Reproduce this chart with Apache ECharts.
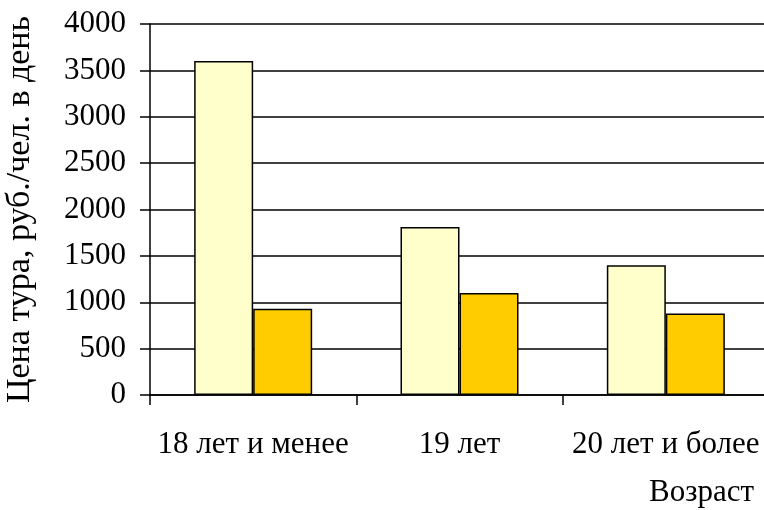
<!DOCTYPE html>
<html><head><meta charset="utf-8">
<script src="https://cdn.jsdelivr.net/npm/echarts@6/dist/echarts.min.js"></script>
<style>html,body{margin:0;padding:0;background:#fff}#c{width:764px;height:510px}</style>
</head><body><div id="c"></div>
<script>
const categories = ['18 лет и менее', '19 лет', '20 лет и более'];
const seriesA = [3600, 1810, 1400];
const seriesB = [930, 1100, 880];
const yMin = 0, yMax = 4000, yStep = 500;
const yTitle = 'Цена тура, руб./чел. в день';
const xTitle = 'Возраст';

const FONT = "'Liberation Serif', 'Times New Roman', serif";
const chart = echarts.init(document.getElementById('c'), null, {renderer: 'canvas'});
chart.setOption({
  animation: false,
  backgroundColor: '#fff',
  grid: {left: 150, top: 24, right: -5, bottom: 115, containLabel: false, outerBoundsMode: 'none'},
  xAxis: {
    type: 'category',
    data: categories,
    axisLine: {lineStyle: {color: '#000', width: 1.5}},
    axisTick: {show: true, length: 10, lineStyle: {color: '#000', width: 1.5}},
    axisLabel: {color: '#000', fontFamily: FONT, fontSize: 31, margin: 34, interval: 0, hideOverlap: false},
    splitLine: {show: false}
  },
  yAxis: {
    type: 'value',
    min: yMin, max: yMax, interval: yStep,
    name: yTitle,
    nameLocation: 'middle',
    nameGap: 113,
    nameTextStyle: {color: '#000', fontFamily: FONT, fontSize: 34},
    axisLine: {show: true, lineStyle: {color: '#000', width: 1.5}},
    axisTick: {show: true, length: 10, lineStyle: {color: '#000', width: 1.5}},
    axisLabel: {color: '#000', fontFamily: FONT, fontSize: 31, margin: 24, formatter: v => String(v)},
    splitLine: {show: true, lineStyle: {color: '#000', width: 1.5}}
  },
  graphic: [{
    type: 'text', right: 10, top: 477,
    style: {text: xTitle, fill: '#000', font: "31px 'Liberation Serif', 'Times New Roman', serif"}
  }],
  series: [
    {type: 'bar', data: seriesA, barWidth: 59, barGap: '0%',
     itemStyle: {color: '#FFFFCC', borderColor: '#000', borderWidth: 1.5}},
    {type: 'bar', data: seriesB, barWidth: 59, barGap: '0%',
     itemStyle: {color: '#FFCC00', borderColor: '#000', borderWidth: 1.5}}
  ]
});
</script></body></html>
